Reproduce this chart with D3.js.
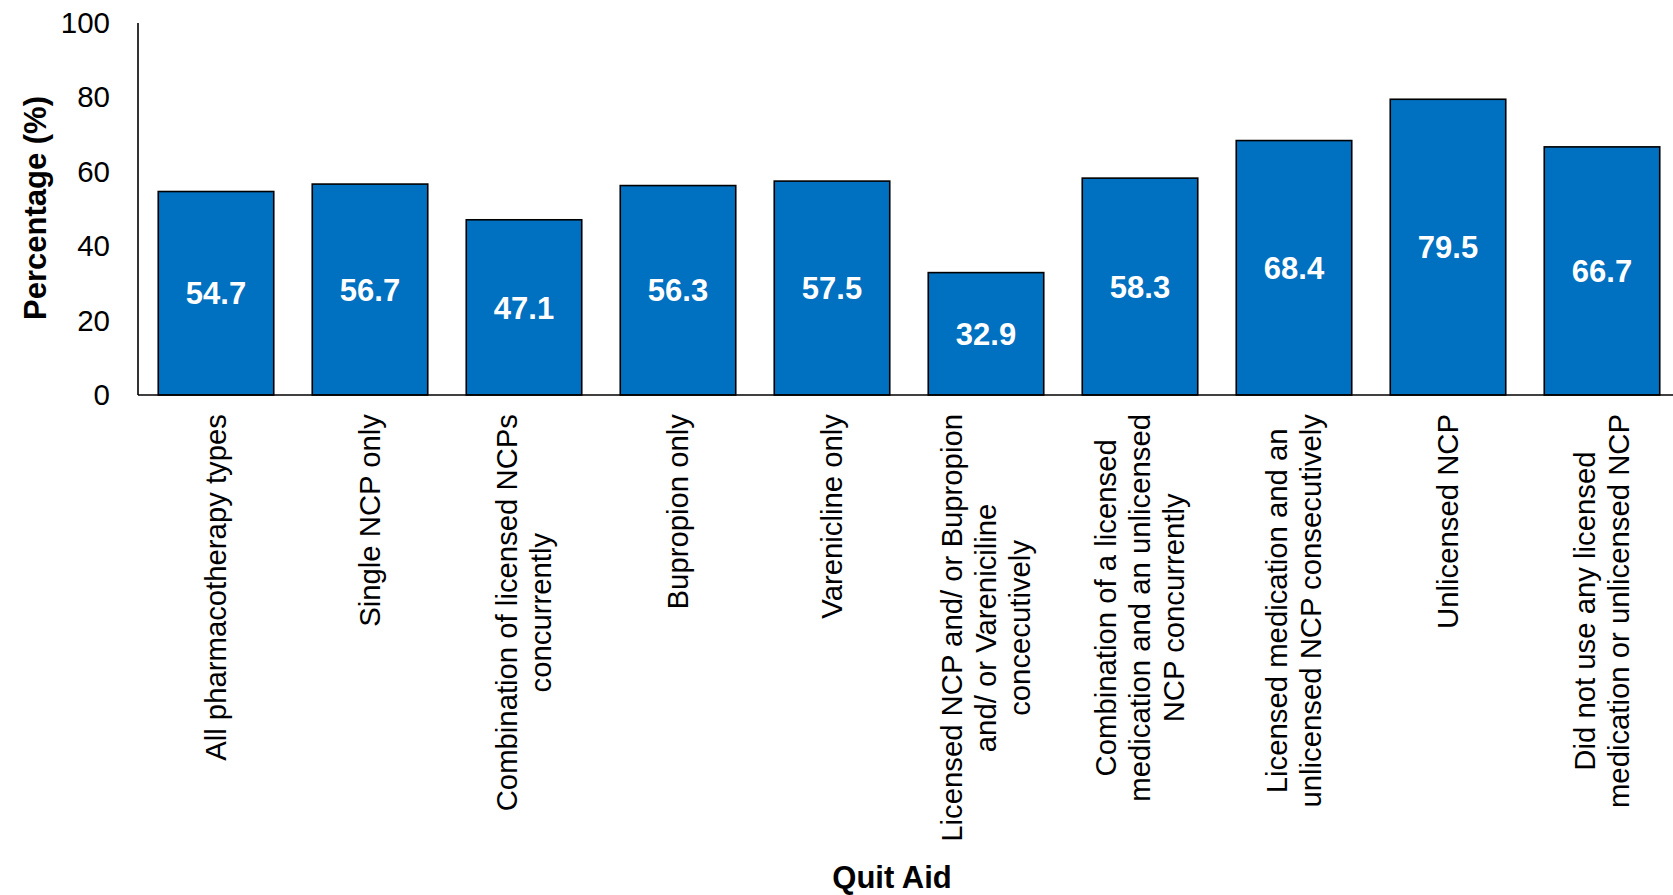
<!DOCTYPE html>
<html>
<head>
<meta charset="utf-8">
<script src="https://cdn.jsdelivr.net/npm/d3@7"></script>
<style>
  html, body { margin: 0; padding: 0; background: #fff; }
  svg { display: block; font-family: "Liberation Sans", Arial, sans-serif; }
</style>
</head>
<body>
<svg id="chart" width="1673" height="895"></svg>
<script>
// Quit aid categories (multi-line labels split into lines)
const categories = [
  ["All pharmacotherapy types"],
  ["Single NCP only"],
  ["Combination of licensed NCPs", "concurrently"],
  ["Bupropion only"],
  ["Varenicline only"],
  ["Licensed NCP and/ or Bupropion", "and/ or Vareniciline", "concecutively"],
  ["Combination of a licensed", "medication and an unlicensed", "NCP concurrently"],
  ["Licensed medication and an", "unlicensed NCP consecutively"],
  ["Unlicensed NCP"],
  ["Did not use any licensed", "medication or unlicensed NCP"]
];
const values = [54.7, 56.7, 47.1, 56.3, 57.5, 32.9, 58.3, 68.4, 79.5, 66.7];
const yTicks = [0, 20, 40, 60, 80, 100];

(function draw() {
  const svg = d3.select("#chart");
  const plotLeft = 139, plotRight = 1679, plotTop = 23, plotBottom = 395;

  const x = d3.scaleBand()
    .domain(d3.range(categories.length))
    .range([plotLeft, plotRight])
    .paddingInner(0.25)
    .paddingOuter(0.125);

  const y = d3.scaleLinear().domain([0, 100]).range([plotBottom, plotTop]);

  // Bars
  svg.append("g").selectAll("rect")
    .data(values)
    .join("rect")
    .attr("x", (d, i) => x(i))
    .attr("y", d => y(d))
    .attr("width", x.bandwidth())
    .attr("height", d => y(0) - y(d))
    .attr("fill", "#0070C0")
    .attr("stroke", "#000")
    .attr("stroke-width", 1.6);

  // Value labels centred inside each bar
  svg.append("g").selectAll("text")
    .data(values)
    .join("text")
    .attr("x", (d, i) => x(i) + x.bandwidth() / 2)
    .attr("y", d => (y(d) + y(0)) / 2)
    .attr("dy", "0.36em")
    .attr("text-anchor", "middle")
    .attr("fill", "#fff")
    .attr("font-weight", "bold")
    .attr("font-size", 31)
    .text(d => d.toFixed(1));

  // Y axis
  const yAxis = svg.append("g")
    .attr("transform", `translate(${plotLeft - 1},0)`)
    .call(d3.axisLeft(y).tickValues(yTicks).tickSize(0).tickPadding(28));
  yAxis.select(".domain").attr("stroke", "#000").attr("stroke-width", 1.6)
    .attr("d", `M0,${plotTop}V${plotBottom}`);
  yAxis.selectAll("text").attr("font-size", 29.5).attr("fill", "#000")
    .attr("font-family", "Liberation Sans, Arial, sans-serif");

  // X axis baseline
  svg.append("line")
    .attr("x1", plotLeft - 1).attr("x2", 1673)
    .attr("y1", y(0)).attr("y2", y(0))
    .attr("stroke", "#000").attr("stroke-width", 1.6);

  // Category labels, rotated, lines centred on each other
  const fontSize = 29.3, lineH = 34, labelTop = 414;
  const measure = svg.append("text").attr("font-size", fontSize).attr("visibility", "hidden");
  const textWidth = s => { measure.text(s); return measure.node().getComputedTextLength(); };

  const lab = svg.append("g");
  categories.forEach((lines, i) => {
    const maxW = d3.max(lines, textWidth);
    const cx = x(i) + x.bandwidth() / 2;
    const cy = labelTop + maxW / 2;
    const n = lines.length;
    const t = lab.append("text")
      .attr("transform", `translate(${cx},${cy}) rotate(-90)`)
      .attr("text-anchor", "middle")
      .attr("font-size", fontSize)
      .attr("fill", "#000");
    lines.forEach((ln, k) => {
      t.append("tspan")
        .attr("x", 0)
        .attr("y", (k - (n - 1) / 2) * lineH)
        .attr("dy", "0.35em")
        .text(ln);
    });
  });
  measure.remove();

  // Axis titles
  svg.append("text")
    .attr("transform", `translate(35,${(plotTop + plotBottom) / 2 - 1}) rotate(-90)`)
    .attr("text-anchor", "middle")
    .attr("dy", "0.35em")
    .attr("font-size", 31)
    .attr("font-weight", "bold")
    .text("Percentage (%)");

  svg.append("text")
    .attr("x", 892)
    .attr("y", 877)
    .attr("dy", "0.35em")
    .attr("text-anchor", "middle")
    .attr("font-size", 31)
    .attr("font-weight", "bold")
    .text("Quit Aid");
})();
</script>
</body>
</html>
